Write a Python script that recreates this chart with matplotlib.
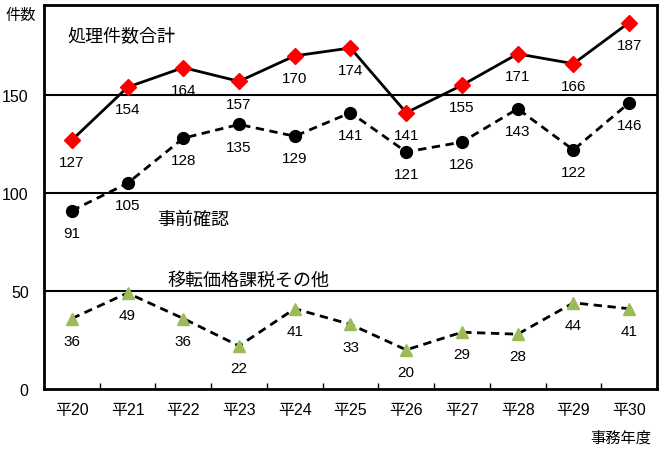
import matplotlib
matplotlib.use("Agg")
import matplotlib.pyplot as plt
import numpy as np

plt.rcParams['font.family'] = ['Liberation Sans', 'Noto Sans CJK JP']

years = ['平20', '平21', '平22', '平23', '平24', '平25', '平26', '平27', '平28', '平29', '平30']
total = [127, 154, 164, 157, 170, 174, 141, 155, 171, 166, 187]
advance = [91, 105, 128, 135, 129, 141, 121, 126, 143, 122, 146]
other = [36, 49, 36, 22, 41, 33, 20, 29, 28, 44, 41]

fig = plt.figure(figsize=(6.66, 4.52), dpi=100)
ax = fig.add_axes([0.066, 0.137, 0.9205, 0.850])

x = np.arange(len(years))

for yv in [50, 100, 150]:
    ax.axhline(yv, color='black', lw=1.5, zorder=1)

ax.plot(x, total, color='black', lw=2.0, marker='D', markersize=8,
        markerfacecolor='#ff0000', markeredgecolor='#ff0000', zorder=3)
ax.plot(x, advance, color='black', lw=2.0, ls=(0, (3, 2)), marker='o', markersize=8.5,
        markerfacecolor='black', markeredgecolor='black', zorder=3)
ax.plot(x, other, color='black', lw=2.0, ls=(0, (3, 2)), marker='^', markersize=8.5,
        markerfacecolor='#9bbb59', markeredgecolor='#9bbb59', zorder=3)

for series in (total, advance, other):
    for xi, v in zip(x, series):
        ax.annotate(str(v), (xi, v), xytext=(0, -16), textcoords='offset points',
                    ha='center', va='center', fontsize=11)

ax.set_xlim(-0.5, len(years) - 0.5)
ax.set_ylim(0, 196)
ax.set_yticks([0, 50, 100, 150])
ax.tick_params(axis='y', length=0, labelsize=11.5, pad=11)
ax.set_xticks(x)
ax.set_xticklabels(years, fontsize=11.5)
ax.set_xticks(np.arange(0.5, len(years) - 1, 1), minor=True)
ax.tick_params(axis='x', which='major', length=0, pad=9)
ax.tick_params(axis='x', which='minor', direction='in', length=4.5, width=1)
for s in ax.spines.values():
    s.set_linewidth(2)

ax.text(-0.07, 180, '処理件数合計', fontsize=13, ha='left', va='center', family=['Noto Sans CJK JP'])
ax.text(1.53, 87, '事前確認', fontsize=13, ha='left', va='center', family=['Noto Sans CJK JP'])
ax.text(1.71, 56, '移転価格課税その他', fontsize=13, ha='left', va='center', family=['Noto Sans CJK JP'])
fig.text(0.008, 0.965, '件数', fontsize=11, ha='left', va='center', family=['Noto Sans CJK JP'])
fig.text(0.978, 0.031, '事務年度', fontsize=11, ha='right', va='center', family=['Noto Sans CJK JP'])

fig.savefig('out.png', dpi=100)
